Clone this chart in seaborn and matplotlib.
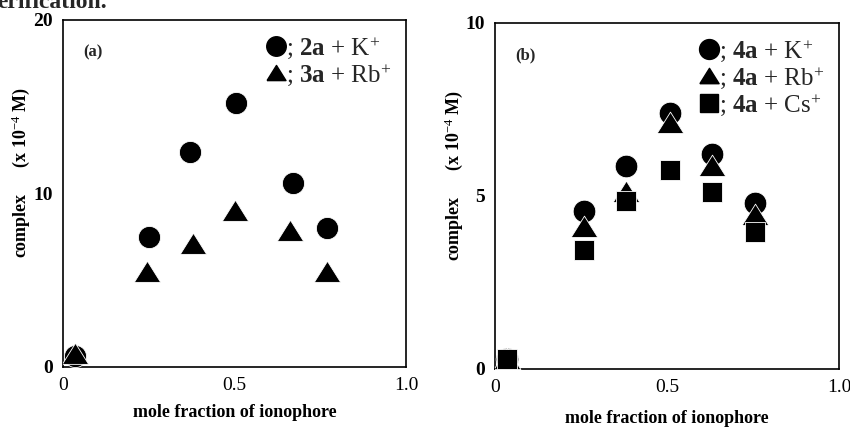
import matplotlib
matplotlib.use("Agg")
import matplotlib.pyplot as plt
import seaborn as sns
import pandas as pd
from matplotlib.lines import Line2D

sns.set_theme(style="white")
plt.rcParams['font.family'] = ['Liberation Serif', 'DejaVu Serif']
plt.rcParams['mathtext.fontset'] = 'custom'
plt.rcParams['mathtext.rm'] = 'Liberation Serif'
plt.rcParams['mathtext.bf'] = 'Liberation Serif:bold'
plt.rcParams['mathtext.it'] = 'Liberation Serif:italic'

# ---- data: panel (a)
a_x_k = [0.035, 0.25, 0.37, 0.505, 0.67, 0.77]
a_y_k = [0.6, 7.5, 12.4, 15.2, 10.6, 8.0]
a_x_rb = [0.035, 0.245, 0.38, 0.50, 0.66, 0.77]
a_y_rb = [0.75, 5.45, 7.1, 9.0, 7.85, 5.45]
a_labels = ["; $\\mathbf{2a}$ + K$^{+}$", "; $\\mathbf{3a}$ + Rb$^{+}$"]

# ---- data: panel (b)
b_x = [0.035, 0.26, 0.38, 0.51, 0.63, 0.755]
b_y_k = [0.3, 4.55, 5.85, 7.4, 6.2, 4.8]
b_y_rb = [0.3, 4.1, 5.1, 7.1, 5.85, 4.45]
b_y_cs = [0.3, 3.45, 4.85, 5.75, 5.1, 3.95]
b_labels = ["; $\\mathbf{4a}$ + K$^{+}$", "; $\\mathbf{4a}$ + Rb$^{+}$", "; $\\mathbf{4a}$ + Cs$^{+}$"]

df_a = pd.DataFrame({
    "x": a_x_k + a_x_rb,
    "y": a_y_k + a_y_rb,
    "s": [a_labels[0]] * len(a_x_k) + [a_labels[1]] * len(a_x_rb),
})
df_b = pd.DataFrame({
    "x": b_x * 3,
    "y": b_y_k + b_y_rb + b_y_cs,
    "s": [b_labels[0]] * 6 + [b_labels[1]] * 6 + [b_labels[2]] * 6,
})

TRI = [(-1.0, -0.75), (1.0, -0.75), (0.0, 0.85), (-1.0, -0.75)]

fig = plt.figure(figsize=(8.5, 4.3), dpi=100)
ax_a = fig.add_axes([0.074, 0.147, 0.404, 0.807])
ax_b = fig.add_axes([0.582, 0.142, 0.405, 0.805])

fig.text(-0.003, 1.018, "erification.", fontsize=17, fontweight='bold', va='top', ha='left')

def draw(ax, df, labels, markers, sizes, ymax, yticks, tag, ylab_x):
    for lab, m, sz in zip(labels, markers, sizes):
        sub = df[df["s"] == lab]
        sns.scatterplot(data=sub, x="x", y="y", marker=m, s=sz, color="black",
                        edgecolor="white", linewidth=0.6, ax=ax, legend=False, zorder=3)
    ax.set_xlim(0, 1.0)
    ax.set_ylim(0, ymax)
    ax.set_xticks([0, 0.5, 1.0])
    ax.set_xticklabels(["0", "0.5", "1.0"])
    ax.set_yticks(yticks)
    ax.set_yticklabels([str(t) for t in yticks])
    ax.tick_params(direction='in', length=7, width=1.2, labelsize=14, pad=7, colors='black')
    for t in ax.get_yticklabels():
        t.set_fontweight('bold')
    for sp in ax.spines.values():
        sp.set_color('black')
        sp.set_linewidth(1.2)
    ax.set_xlabel("mole fraction of ionophore", fontsize=13, fontweight='bold', color='black')
    ax.set_ylabel("complex      (x 10$^{-4}$ M)", fontsize=13, fontweight='bold', color='black')
    ax.yaxis.set_label_coords(ylab_x, 0.56)
    ax.text(0.06, 0.905, tag, transform=ax.transAxes, fontsize=12, fontweight='bold', va='center')
    handles = []
    for m, sz in zip(markers, sizes):
        ms = (sz ** 0.5) * (0.72 if m is TRI else 0.88)
        handles.append(Line2D([], [], marker=m, color='black', linestyle='none',
                              markersize=ms, markeredgecolor='black'))
    leg = ax.legend(handles, labels, loc='upper right', frameon=False, fontsize=18,
                    handletextpad=-0.15, handlelength=1.1, labelspacing=0.05,
                    borderaxespad=0.2)
    return leg

draw(ax_a, df_a, a_labels, ['o', TRI], [255, 360], 20, [0, 10, 20], "(a)", -0.09)
draw(ax_b, df_b, b_labels, ['o', TRI, 's'], [265, 370, 225], 10, [0, 5, 10], "(b)", -0.087)
ax_a.xaxis.set_label_coords(0.5, -0.108)
ax_b.xaxis.set_label_coords(0.5, -0.12)

fig.savefig("out.png", dpi=100)
